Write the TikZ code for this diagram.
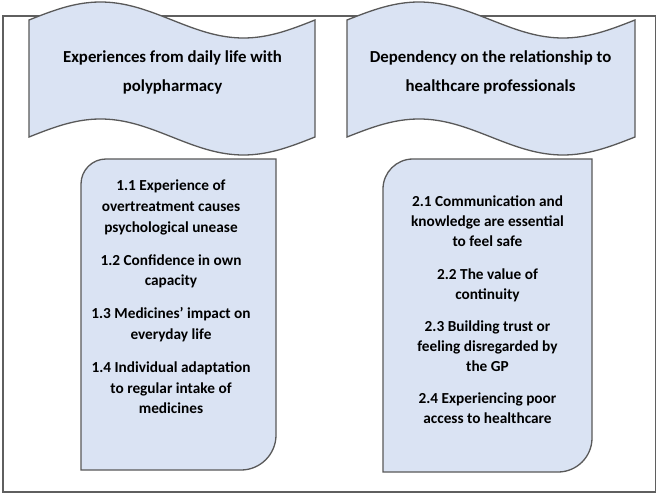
\documentclass[tikz,border=0pt]{standalone}
\usepackage{fontspec}
\setmainfont{Carlito}
\definecolor{fillblue}{HTML}{DAE3F3}
\definecolor{edgegray}{HTML}{595959}
\definecolor{framegray}{HTML}{5F5F5F}
\begin{document}
\begin{tikzpicture}[x=1pt,y=-1pt,
  shapebox/.style={fill=fillblue,draw=edgegray,line width=1.3pt},
  framebox/.style={draw=framegray,line width=1.5pt},
  headtext/.style={anchor=north,inner sep=0pt,align=center,font={\fontsize{16.8}{29}\selectfont\bfseries}},
  itemtext/.style={anchor=north,inner sep=0pt,align=center,font={\fontsize{15.3}{#1}\selectfont\bfseries}}]
\useasboundingbox (0,0) rectangle (661,497);
\fill[white] (0,0) rectangle (661,497);
% outer frame
\draw[framebox] (3,16) rectangle (655.5,492);
% banners
\draw[shapebox] plot[domain=29:315,samples=80] (\x,{20-18*sin(1.25874*(\x-29))})
  -- plot[domain=315:29,samples=80] (\x,{137-18*sin(1.25874*(\x-29))}) -- cycle;
\draw[shapebox] plot[domain=347:635,samples=80] (\x,{20-18*sin(1.25*(\x-347))})
  -- plot[domain=635:347,samples=80] (\x,{137-18*sin(1.25*(\x-347))}) -- cycle;
% lower boxes
\draw[shapebox] (81,470) -- (81,184) .. controls (81,170.2) and (92.2,159) .. (106,159)
  -- (276,159) -- (276,435) .. controls (276,454.3) and (260.3,470) .. (241,470) -- cycle;
\draw[shapebox] (383,472) -- (383,189) .. controls (383,172.4) and (396.4,159) .. (413,159)
  -- (592,159) -- (592,438) .. controls (592,456.8) and (576.8,472) .. (558,472) -- cycle;
% texts
\node[headtext] (head1) at (172.5,41.7) {\strut Experiences from daily life with\\polypharmacy};
\node[headtext] (head2) at (490.5,41.7) {\strut Dependency on the relationship to\\healthcare professionals};
\node[itemtext=20.7pt] (items1) at (171,176) {\strut 1.1 Experience of\\overtreatment causes\\psychological unease\\[12.3pt]
  1.2 Confidence in own\\capacity\\[12.3pt]
  1.3 Medicines’ impact on\\everyday life\\[12.3pt]
  1.4 Individual adaptation\\to regular intake of\\medicines};
\node[itemtext=20.1pt] (items2) at (487.5,192.4) {\strut 2.1 Communication and\\knowledge are essential\\to feel safe\\[12.1pt]
  2.2 The value of\\continuity\\[12.1pt]
  2.3 Building trust or\\feeling disregarded by\\the GP\\[12.1pt]
  2.4 Experiencing poor\\access to healthcare};
\end{tikzpicture}
\end{document}
